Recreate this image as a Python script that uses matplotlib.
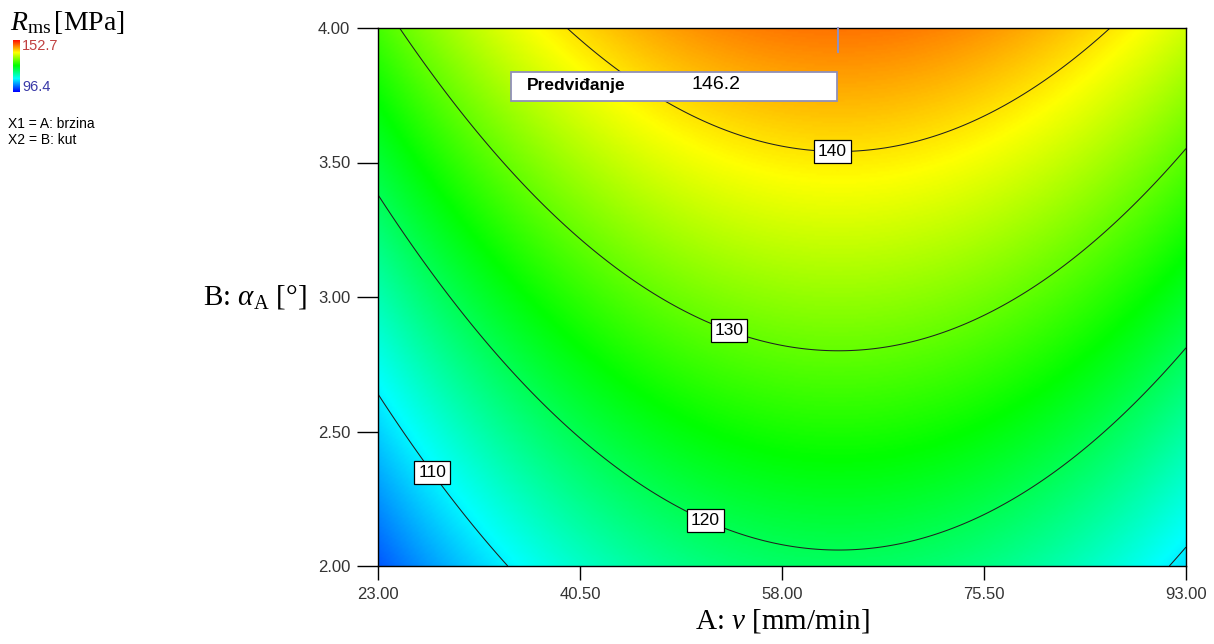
import matplotlib.pyplot as plt
import numpy as np
from matplotlib.colors import LinearSegmentedColormap

plt.rcParams['mathtext.fontset'] = 'custom'
plt.rcParams['mathtext.rm'] = 'Liberation Serif'
plt.rcParams['mathtext.it'] = 'Liberation Serif:italic'

# factor ranges and ticks
a_ticks = [23.00, 40.50, 58.00, 75.50, 93.00]
b_ticks = [2.00, 2.50, 3.00, 3.50, 4.00]

# fitted model in coded units: R = b0 + bA*a + bB*b + bAA*a^2
# a = (A - 58)/35, b = (B - 3)/1
coef_b0 = 132.43
coef_A = 3.84
coef_B = 13.5
coef_AA = -13.72

r_min = 96.4
r_max = 152.7
levels = [110, 120, 130, 140]
label_pos = [(62.4, 3.58), (53.8, 2.92), (51.8, 2.21), (28.1, 2.36)]
pred_value = 146.2
pred_A = 62.85


def model(A, B):
    a = (A - 58.0) / 35.0
    b = B - 3.0
    return coef_b0 + coef_A * a + coef_B * b + coef_AA * a ** 2


A = np.linspace(a_ticks[0], a_ticks[-1], 400)
B = np.linspace(b_ticks[0], b_ticks[-1], 300)
AA, BB = np.meshgrid(A, B)
R = model(AA, BB)

cmap = LinearSegmentedColormap.from_list(
    'de', ['#0000ff', '#00ffff', '#00ff00', '#ffff00', '#ff0000'])

fig = plt.figure(figsize=(12.14, 6.44), dpi=100)
ax = fig.add_axes([378 / 1214, 1 - 566 / 644, 808 / 1214, 538 / 644])

ax.imshow(R, extent=[A[0], A[-1], B[0], B[-1]], origin='lower',
          aspect='auto', cmap=cmap, vmin=r_min, vmax=r_max,
          interpolation='bilinear')
cs = ax.contour(AA, BB, R, levels=levels, colors='#202020', linewidths=0.75)
labels = ax.clabel(cs, fmt='%d', inline=False, manual=label_pos,
                   fontsize=12.5)
for t in labels:
    t.set_rotation(0)
    t.set_family('Liberation Sans')
    t.set_color('black')
    t.set_bbox(dict(facecolor='white', edgecolor='black', linewidth=0.9,
                    boxstyle='square,pad=0.22'))
    t.set_zorder(5)

ax.set_xlim(a_ticks[0], a_ticks[-1])
ax.set_ylim(b_ticks[0], b_ticks[-1])
ax.set_xticks(a_ticks)
ax.set_yticks(b_ticks)
ax.set_xticklabels(['%.2f' % v for v in a_ticks])
ax.set_yticklabels(['%.2f' % v for v in b_ticks])
ax.tick_params(axis='x', direction='out', length=10, width=1, pad=5,
               labelsize=12, labelcolor='#333333')
ax.tick_params(axis='y', direction='out', length=15, width=1, pad=5,
               labelsize=12, labelcolor='#333333')
for lbl in ax.get_xticklabels() + ax.get_yticklabels():
    lbl.set_family('Liberation Sans')
for s in ax.spines.values():
    s.set_linewidth(1.0)

ax.set_xlabel(r'A: $\mathit{v}$ [mm/min]', fontsize=21,
              family='Liberation Serif', labelpad=4)
ax.set_ylabel(r'B: $\mathit{\alpha}_\mathrm{A}$ [°]', fontsize=21,
              family='Liberation Serif', rotation=0, labelpad=0,
              ha='right', va='center')
ax.yaxis.set_label_coords(-0.088, 0.50)

# prediction flag
ax.plot([pred_A, pred_A], [b_ticks[-1], 3.91], color='#9090c0', lw=1.5,
        clip_on=False, zorder=6)
ax.text(0.1845, 0.8925, 'Predviđanje', transform=ax.transAxes,
        fontsize=12.5, fontweight='bold', family='Liberation Sans',
        va='center', ha='left', zorder=8)
ax.text(0.3885, 0.8945, '%.1f' % pred_value, transform=ax.transAxes,
        fontsize=14, family='Liberation Sans', va='center', ha='left',
        zorder=8)
ax.add_patch(plt.Rectangle((0.165, 0.8643), 0.4034, 0.0543,
                           transform=ax.transAxes, facecolor='white',
                           edgecolor='#9090b8', lw=1.3, zorder=7))

# legend block
fig.text(10 / 1214, 1 - 22 / 644, r'$\mathit{R}_\mathrm{ms}\,$[MPa]',
         fontsize=20, family='Liberation Serif', va='center', ha='left')
cax = fig.add_axes([13 / 1214, 1 - 92 / 644, 7 / 1214, 52 / 644])
grad = np.linspace(r_min, r_max, 100).reshape(-1, 1)
cax.imshow(grad, origin='lower', aspect='auto', cmap=cmap)
cax.set_axis_off()
fig.text(22 / 1214, 1 - 46 / 644, '%.1f' % r_max, color='#c04040',
         fontsize=10.5, family='Liberation Sans', va='center')
fig.text(22 / 1214, 1 - 87 / 644, '%.1f' % r_min, color='#3a3aa8',
         fontsize=10.5, family='Liberation Sans', va='center')
fig.text(8 / 1214, 1 - 124 / 644, 'X1 = A: brzina', fontsize=10,
         family='Liberation Sans', va='center')
fig.text(8 / 1214, 1 - 140 / 644, 'X2 = B: kut', fontsize=10,
         family='Liberation Sans', va='center')

fig.savefig('out.png', dpi=100)
